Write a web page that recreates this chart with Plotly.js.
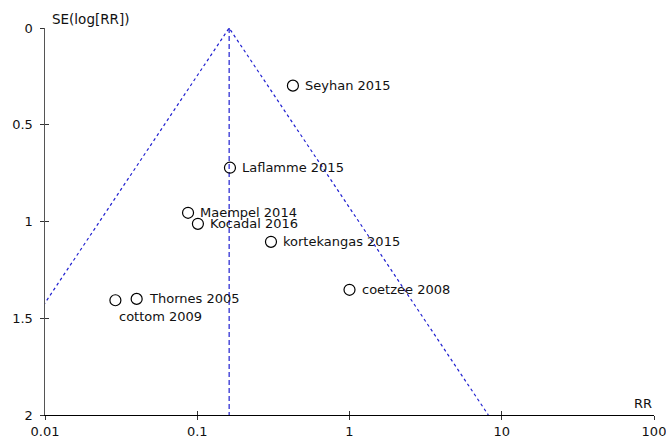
<!DOCTYPE html>
<html>
<head>
<meta charset="utf-8">
<script src="https://cdn.plot.ly/plotly-3.0.1.min.js"></script>
<style>html,body{margin:0;padding:0;background:#fff}#chart{width:666px;height:441px}</style>
</head>
<body>
<div id="chart"></div>
<script>
const studies = ["Seyhan 2015","Laflamme 2015","Maempel 2014","Kocadal 2016","kortekangas 2015","coetzee 2008","Thornes 2005","cottom 2009"];
const rr = [0.425, 0.164, 0.087, 0.101, 0.305, 1.0, 0.040, 0.029];
const se = [0.298, 0.722, 0.955, 1.012, 1.105, 1.353, 1.400, 1.407];
const labelBelow = [false,false,false,false,false,false,false,true];
const summaryRR = 0.162;
const seMax = 2;
const xTicks = [0.01, 0.1, 1, 10, 100];
const xTickText = ["0.01","0.1","1","10","100"];
const yTicks = [0, 0.5, 1, 1.5, 2];
const yTickText = ["0","0.5","1","1.5","2"];

const font = "DejaVu Sans, Verdana, sans-serif";
const blue = "#2020d0";
const lo = summaryRR * Math.exp(-1.96 * seMax);
const hi = summaryRR * Math.exp(1.96 * seMax);

const traces = [
  {x:[lo, summaryRR, hi], y:[seMax, 0, seMax], mode:"lines", line:{color:blue, width:1.2, dash:"3px,3px"}, hoverinfo:"skip"},
  {x:[summaryRR, summaryRR], y:[0, seMax], mode:"lines", line:{color:blue, width:1.2, dash:"5px,3px"}, hoverinfo:"skip"},
  {x:rr, y:se, mode:"markers",
   marker:{symbol:"circle-open", size:11, color:"#000", line:{width:1.2, color:"#000"}}, cliponaxis:false},
  {x:[0.01], y:[0], xaxis:"x2", yaxis:"y2", mode:"markers", marker:{opacity:0}, hoverinfo:"skip"}
];

const axFont = {family:font, size:13, color:"#111"};
const labelAnn = studies.map((s, i) => ({
  text:s, x:Math.log10(rr[i]), y:se[i], xref:"x", yref:"y",
  xanchor:"left", yanchor:"middle",
  xshift: labelBelow[i] ? 2 : 10, yshift: labelBelow[i] ? -16 : 0,
  showarrow:false, font:{family:font, size:13, color:"#111"}
}));

const layout = {
  width:666, height:441,
  margin:{l:45, r:12, t:28, b:26},
  paper_bgcolor:"#fff", plot_bgcolor:"#fff",
  showlegend:false,
  font:{family:font, size:13, color:"#111"},
  xaxis:{type:"log", range:[-2,2], tickvals:xTicks, ticktext:xTickText,
    showgrid:false, zeroline:false, showline:true, linecolor:"#000", linewidth:1,
    ticks:"outside", ticklen:4, tickcolor:"#333", tickwidth:1, tickfont:axFont,
    ticklabelstandoff:0, ticklabeloverflow:"allow"},
  yaxis:{range:[2,0], tickvals:yTicks, ticktext:yTickText,
    showgrid:false, zeroline:false, showline:true, linecolor:"#555", linewidth:1.5,
    ticks:"outside", ticklen:4, tickcolor:"#333", tickwidth:1, tickfont:axFont,
    ticklabelstandoff:4},
  xaxis2:{type:"log", range:[-2,2], overlaying:"x", tickvals:xTicks, showticklabels:false,
    showgrid:false, zeroline:false, ticks:"inside", ticklen:4, tickcolor:"#333", tickwidth:1, side:"bottom"},
  yaxis2:{range:[2,0], overlaying:"y", tickvals:yTicks, showticklabels:false,
    showgrid:false, zeroline:false, ticks:"inside", ticklen:4, tickcolor:"#333", tickwidth:1, side:"left"},
  annotations:[
    {text:"SE(log[RR])", xref:"paper", yref:"paper", x:0, y:1, xanchor:"left", yanchor:"bottom",
     xshift:5, yshift:-1, showarrow:false, font:{family:font, size:13.5, color:"#111"}},
    {text:"RR", xref:"paper", yref:"paper", x:1, y:0, xanchor:"right", yanchor:"bottom",
     yshift:2, showarrow:false, font:axFont}
  ].concat(labelAnn)
};
Plotly.newPlot("chart", traces, layout, {staticPlot:true});
</script>
</body>
</html>
